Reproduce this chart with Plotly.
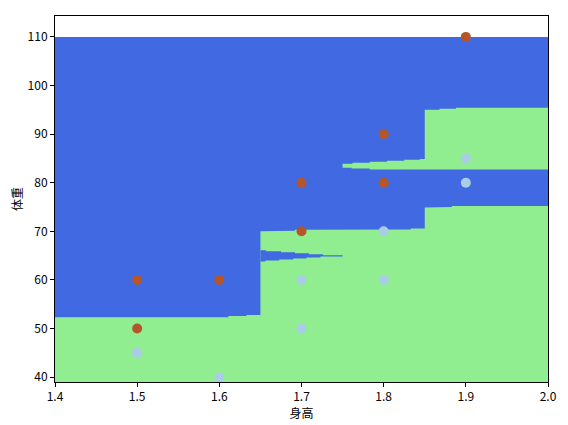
import plotly.graph_objects as go

# sample points
red_x = [1.5, 1.5, 1.6, 1.7, 1.7, 1.8, 1.8, 1.9]
red_y = [60, 50, 60, 80, 70, 90, 80, 110]
blue_x = [1.5, 1.6, 1.7, 1.7, 1.8, 1.8, 1.9, 1.9]
blue_y = [45, 40, 60, 50, 70, 60, 85, 80]

# decision regions (step boundaries: x start, y level)
grid_x = [1.4, 2.0]
grid_y = [39, 110]
low_top_x = [1.4, 1.611, 1.633, 1.65, 1.671, 1.692, 1.812, 1.833, 1.85, 1.862, 1.883]
low_top_y = [52.3, 52.6, 52.8, 70.0, 70.1, 70.3, 70.4, 70.6, 74.9, 75.0, 75.2]
wedge_top_x = [1.65, 1.657, 1.675, 1.692, 1.709, 1.726]
wedge_top_y = [66.1, 65.9, 65.7, 65.5, 65.3, 65.1]
wedge_bot_x = [1.65, 1.656, 1.673, 1.690, 1.706, 1.723]
wedge_bot_y = [63.8, 64.0, 64.2, 64.4, 64.6, 64.8]
wedge_end = 1.75
up_top_x = [1.75, 1.762, 1.783, 1.804, 1.825, 1.844, 1.85, 1.868, 1.888]
up_top_y = [83.9, 84.1, 84.3, 84.5, 84.7, 84.9, 95.0, 95.2, 95.4]
up_bot_x = [1.75, 1.761, 1.783]
up_bot_y = [83.1, 82.9, 82.7]

BLUE = "#4169E1"
GREEN = "#90EE90"


def steps(xs, ys, xend):
    px, py = [], []
    for i, (x, y) in enumerate(zip(xs, ys)):
        nx = xs[i + 1] if i + 1 < len(xs) else xend
        px += [x, nx]
        py += [y, y]
    return px, py


def poly(top, bot, color):
    tx, ty = top
    bx, by = bot
    return go.Scatter(x=tx + bx[::-1] + [tx[0]], y=ty + by[::-1] + [ty[0]],
                      fill="toself", fillcolor=color, mode="lines",
                      line=dict(width=0, color=color), hoverinfo="skip",
                      showlegend=False)


fig = go.Figure()
fig.add_trace(poly(steps(grid_x[:1], grid_y[1:], grid_x[1]),
                   steps(grid_x[:1], grid_y[:1], grid_x[1]), BLUE))
fig.add_trace(poly(steps(low_top_x, low_top_y, grid_x[1]),
                   steps(grid_x[:1], grid_y[:1], grid_x[1]), GREEN))
fig.add_trace(poly(steps(wedge_top_x, wedge_top_y, wedge_end),
                   steps(wedge_bot_x, wedge_bot_y, wedge_end), BLUE))
fig.add_trace(poly(steps(up_top_x, up_top_y, grid_x[1]),
                   steps(up_bot_x, up_bot_y, grid_x[1]), GREEN))
fig.add_trace(go.Scatter(x=red_x, y=red_y, mode="markers",
                         marker=dict(size=10, color="#B5562A"), showlegend=False))
fig.add_trace(go.Scatter(x=blue_x, y=blue_y, mode="markers",
                         marker=dict(size=10, color="#A9CDE6"), showlegend=False))

ax = dict(showgrid=False, zeroline=False, showline=True, linecolor="black",
          linewidth=1, mirror=True, ticks="outside", ticklen=4,
          tickcolor="black", tickfont=dict(size=12, color="black"))
fig.update_xaxes(range=[1.4, 2.0], dtick=0.1, tickformat=".1f",
                 title=dict(text="身高", font=dict(size=12), standoff=4), **ax)
fig.update_yaxes(range=[39, 114.3], dtick=10,
                 title=dict(text="体重", font=dict(size=12), standoff=4), **ax)
fig.update_layout(width=568, height=425, plot_bgcolor="white",
                  paper_bgcolor="white",
                  font=dict(family="Noto Sans CJK SC, DejaVu Sans", color="black"),
                  margin=dict(l=39, r=28, t=7, b=51))
fig.write_html("out.html")
